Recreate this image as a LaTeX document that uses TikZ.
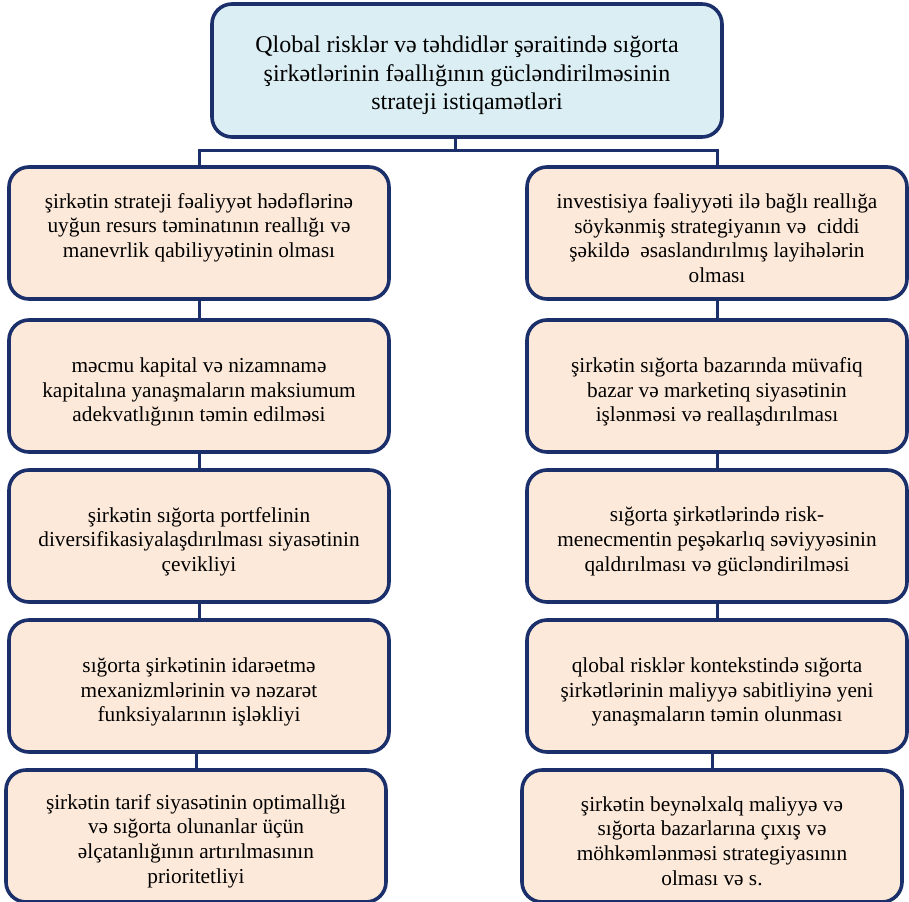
\documentclass[tikz,border=0pt]{standalone}
\usepackage{fontspec}
\setmainfont{Liberation Serif}
\definecolor{navy}{HTML}{1B2F6B}
\definecolor{peach}{HTML}{FDE9D9}
\definecolor{ice}{HTML}{DAEEF3}
\begin{document}
\begin{tikzpicture}[x=1pt,y=-1pt,
  basebox/.style={draw=navy, line width=3.6pt, rounded corners=20pt, inner sep=0pt},
  itembox/.style={basebox, fill=peach, minimum width=380pt, minimum height=132pt},
  headbox/.style={basebox, fill=ice, minimum width=510pt, minimum height=133pt},
  itemtext/.style={align=center, inner sep=0pt, font=\rmfamily\fontsize{21.3}{24.7}\selectfont},
  headtext/.style={align=center, inner sep=0pt, font=\rmfamily\fontsize{24}{28.5}\selectfont},
  link/.style={draw=navy, line width=3pt}]
\useasboundingbox (0,0) rectangle (909,901);

\node[headbox] (top) at (467,70.5) {};
\node[headtext] (topt) at ([yshift=-5pt]top.center) {Qlobal risklər və təhdidlər şəraitində sığorta\\ şirkətlərinin fəallığının gücləndirilməsinin\\ strateji istiqamətləri};

\node[itembox] (L1) at (199,233) {};
\node[itemtext] (L1t) at ([yshift=5.5pt]L1.center) {şirkətin strateji fəaliyyət hədəflərinə\\ uyğun resurs təminatının reallığı və\\ manevrlik qabiliyyətinin olması};
\node[itembox] (R1) at (717,233) {};
\node[itemtext] (R1t) at ([yshift=-5pt]R1.center) {investisiya fəaliyyəti ilə bağlı reallığa\\ söykənmiş strategiyanın və\ \ ciddi\\ şəkildə\ \ əsaslandırılmış layihələrin\\ olması};

\node[itembox] (L2) at (199,386) {};
\node[itemtext] (L2t) at ([yshift=-6pt]L2.center) {məcmu kapital və nizamnamə\\ kapitalına yanaşmaların maksiumum\\ adekvatlığının təmin edilməsi};
\node[itembox] (R2) at (717,386) {};
\node[itemtext] (R2t) at ([yshift=-6pt]R2.center) {şirkətin sığorta bazarında müvafiq\\ bazar və marketinq siyasətinin\\ işlənməsi və reallaşdırılması};

\node[itembox] (L3) at (199,536) {};
\node[itemtext] (L3t) at ([yshift=-5.5pt]L3.center) {şirkətin sığorta portfelinin\\ diversifikasiyalaşdırılması siyasətinin\\ çevikliyi};
\node[itembox] (R3) at (717,536) {};
\node[itemtext] (R3t) at ([yshift=-5.5pt]R3.center) {sığorta şirkətlərində risk-\\ menecmentin peşəkarlıq səviyyəsinin\\ qaldırılması və gücləndirilməsi};

\node[itembox] (L4) at (199,686) {};
\node[itemtext] (L4t) at ([yshift=-6pt]L4.center) {sığorta şirkətinin idarəetmə\\ mexanizmlərinin və nəzarət\\ funksiyalarının işləkliyi};
\node[itembox] (R4) at (717,686) {};
\node[itemtext] (R4t) at ([yshift=-6pt]R4.center) {qlobal risklər kontekstində sığorta\\ şirkətlərinin maliyyə sabitliyinə yeni\\ yanaşmaların təmin olunması};

\node[itembox] (L5) at (196,836) {};
\node[itemtext] (L5t) at ([yshift=-5pt]L5.center) {şirkətin tarif siyasətinin optimallığı\\ və sığorta olunanlar üçün\\ əlçatanlığının artırılmasının\\ prioritetliyi};
\node[itembox] (R5) at (712,836) {};
\node[itemtext] (R5t) at ([yshift=-5pt]R5.center) {şirkətin beynəlxalq maliyyə və\\ sığorta bazarlarına çıxış və\\ möhkəmlənməsi strategiyasının\\ olması və s.};

\coordinate (tc) at ([xshift=-12pt]top.south);
\coordinate (bar) at ([yshift=-12pt]tc);
\draw[link] (tc) -- (bar);
\draw[link] (L1.north) |- (bar) -| (R1.north);

\foreach \a/\b in {L1/L2,L2/L3,L3/L4,L4/L5,R1/R2,R2/R3,R3/R4,R4/R5}{
  \draw[link] (\b.north) -- (\b.north |- \a.south);
}
\end{tikzpicture}
\end{document}
